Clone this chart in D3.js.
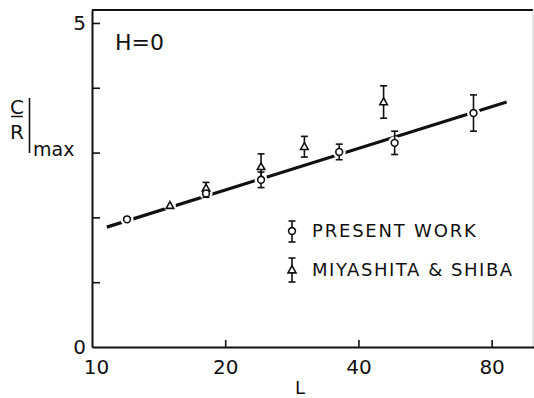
<!DOCTYPE html>
<html><head><meta charset="utf-8">
<script src="https://cdn.jsdelivr.net/npm/d3@7"></script>
<style>
html,body{margin:0;padding:0;background:#fff;}
svg{display:block;}
text{font-family:"DejaVu Sans",sans-serif;fill:#111;}
</style></head>
<body>
<svg id="chart" width="534" height="398"></svg>
<script>
// ---- data ----
const xTicks = [10, 20, 40, 80];
const yTicks = [0, 1, 2, 3, 4, 5];
const yTickLabels = ["0", "", "", "", "", "5"];

const presentL   = [12.0, 18.1, 24.1, 36.2, 48.3, 72.8];
const presentC   = [1.97, 2.37, 2.58, 3.01, 3.15, 3.61];
const presentErr = [0.00, 0.06, 0.12, 0.12, 0.18, 0.28];

const miyaL   = [15.0, 18.1, 24.1, 30.2, 45.6];
const miyaC   = [2.18, 2.45, 2.78, 3.09, 3.78];
const miyaErr = [0.00, 0.09, 0.20, 0.16, 0.25];

const fitL = [10.8, 86.5];
const fitC = [1.85, 3.78];

const legendLabels = ["PRESENT WORK", "MIYASHITA & SHIBA"];

// ---- layout ----
const svg = d3.select("#chart");
const pLeft = 92, pRight = 533, pTop = 10, pBottom = 347;
const x = d3.scaleLog().domain([10, 100]).range([pLeft, 534.5]);
const y = d3.scaleLinear().domain([0, 5.2]).range([pBottom, pTop]);

// frame
svg.append("line").attr("x1", pLeft).attr("x2", pRight).attr("y1", pTop).attr("y2", pTop)
  .attr("stroke", "#111").attr("stroke-width", 2);
svg.append("line").attr("x1", pRight).attr("x2", pRight).attr("y1", pTop).attr("y2", pBottom)
  .attr("stroke", "#ccc").attr("stroke-width", 1);

// axes
const yAxis = d3.axisLeft(y).tickValues(yTicks).tickSizeInner(-8).tickSizeOuter(0)
  .tickPadding(6).tickFormat((d, i) => yTickLabels[i]);
const gy = svg.append("g").attr("transform", `translate(${pLeft},0)`).call(yAxis);
const xAxis = d3.axisBottom(x).tickValues(xTicks).tickSizeInner(-7).tickSizeOuter(0)
  .tickPadding(13).tickFormat(d3.format("d"));
const gx = svg.append("g").attr("transform", `translate(0,${pBottom})`).call(xAxis);
[gx, gy].forEach(g => {
  g.select(".domain").attr("stroke", "#111").attr("stroke-width", 2);
  g.selectAll(".tick line").attr("stroke", "#111").attr("stroke-width", 1.6);
  g.selectAll(".tick text").style("font-family", "DejaVu Sans").style("font-size", "20px").attr("fill", "#111");
});
gx.selectAll(".tick").filter(d => d === 10).select("text").attr("dx", 4);
gx.selectAll(".tick").filter(d => d === 10).select("line").remove();
gy.selectAll(".tick").filter(d => d === 0).select("line").remove();

// fit line
svg.append("path")
  .datum(fitL.map((l, i) => [l, fitC[i]]))
  .attr("d", d3.line().x(d => x(d[0])).y(d => y(d[1])))
  .attr("fill", "none").attr("stroke", "#111").attr("stroke-width", 3.2);

// markers
function triPath(cx, cy, s) {
  const h = s * 0.9;
  return `M${cx},${cy - h * 0.6}L${cx + s / 2},${cy + h * 0.4}L${cx - s / 2},${cy + h * 0.4}Z`;
}
function errBar(g, cx, cy0, cy1) {
  g.append("line").attr("x1", cx).attr("x2", cx).attr("y1", cy0).attr("y2", cy1)
    .attr("stroke", "#111").attr("stroke-width", 1.6);
  [cy0, cy1].forEach(yy => g.append("line").attr("x1", cx - 3.5).attr("x2", cx + 3.5)
    .attr("y1", yy).attr("y2", yy).attr("stroke", "#111").attr("stroke-width", 1.6));
}
function drawCircle(g, cx, cy) {
  g.append("circle").attr("cx", cx).attr("cy", cy).attr("r", 3.4)
    .attr("fill", "#fff").attr("stroke", "#111").attr("stroke-width", 1.6);
}
const gm = svg.append("g");
// halos first
presentL.forEach((l, i) => gm.append("circle").attr("cx", x(l)).attr("cy", y(presentC[i])).attr("r", 6.5).attr("fill", "#fff"));
miyaL.forEach((l, i) => gm.append("circle").attr("cx", x(l)).attr("cy", y(miyaC[i])).attr("r", 6).attr("fill", "#fff"));
presentL.forEach((l, i) => { if (presentErr[i] > 0) errBar(gm, x(l), y(presentC[i] + presentErr[i]), y(presentC[i] - presentErr[i])); });
miyaL.forEach((l, i) => { if (miyaErr[i] > 0) errBar(gm, x(l), y(miyaC[i] + miyaErr[i]), y(miyaC[i] - miyaErr[i])); });
miyaL.forEach((l, i) => gm.append("path").attr("d", triPath(x(l), y(miyaC[i]), 7.5))
  .attr("fill", "#fff").attr("stroke", "#111").attr("stroke-width", 1.6));
presentL.forEach((l, i) => gm.append("circle").attr("cx", x(l)).attr("cy", y(presentC[i])).attr("r", 3.4)
  .attr("fill", "#fff").attr("stroke", "#111").attr("stroke-width", 1.6));

// legend
const lg = svg.append("g");
errBar(lg, 292, 221, 242);
drawCircle(lg, 292, 231);
lg.append("text").attr("x", 312).attr("y", 237).style("font-size", "18px").style("letter-spacing", "1.8px").text(legendLabels[0]);
errBar(lg, 292, 258, 282);
lg.append("path").attr("d", triPath(292, 270, 8)).attr("fill", "#fff").attr("stroke", "#111").attr("stroke-width", 1.6);
lg.append("text").attr("x", 312).attr("y", 276).style("font-size", "18px").style("letter-spacing", "1.55px").text(legendLabels[1]);

// annotations
svg.append("text").attr("x", 115).attr("y", 50).style("font-size", "22px").text("H=0");

// y label: C/R |max
svg.append("text").attr("x", 17).attr("y", 114).attr("text-anchor", "middle").style("font-size", "20px").text("C");
svg.append("line").attr("x1", 11).attr("x2", 23).attr("y1", 116.5).attr("y2", 116.5).attr("stroke", "#111").attr("stroke-width", 1.5);
svg.append("text").attr("x", 17).attr("y", 139).attr("text-anchor", "middle").style("font-size", "20px").text("R");
svg.append("line").attr("x1", 29.5).attr("x2", 29.5).attr("y1", 98).attr("y2", 153).attr("stroke", "#111").attr("stroke-width", 1.6);
svg.append("text").attr("x", 33).attr("y", 156).style("font-size", "19px").text("max");

// x label
svg.append("text").attr("x", 295).attr("y", 394).style("font-size", "18px").text("L");
</script>
</body></html>
